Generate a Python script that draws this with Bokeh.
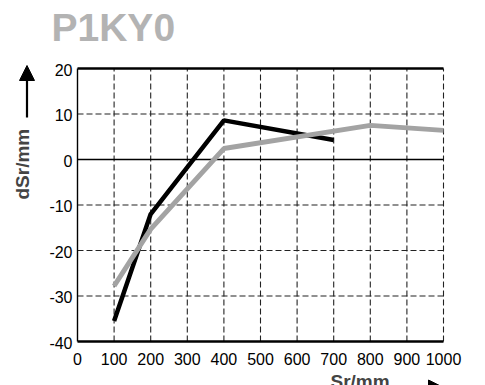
import math
from bokeh.plotting import figure
from bokeh.models import Label, Arrow, NormalHead, Range1d
from bokeh.embed import file_html
from bokeh.resources import INLINE

# ---- data ----
title_text = "P1KY0"
x_label = "Sr/mm"
y_label = "dSr/mm"
x_ticks = [0, 100, 200, 300, 400, 500, 600, 700, 800, 900, 1000]
y_ticks = [-40, -30, -20, -10, 0, 10, 20]
x_tick_labels = ["0", "100", "200", "300", "400", "500", "600", "700", "800", "900", "1000"]
y_tick_labels = ["-40", "-30", "-20", "-10", "0", "10", "20"]

black_x = [100, 200, 400, 700]
black_y = [-35.5, -12.0, 8.6, 4.3]

gray_x = [100, 200, 400, 800, 1000]
gray_y = [-27.8, -15.3, 2.4, 7.5, 6.4]

# ---- layout (pixels) ----
W, H = 485, 385
L, R, T, B = 77, 443, 68, 341
FONT = "Liberation Sans"

x_min, x_max = x_ticks[0], x_ticks[-1]
y_min, y_max = y_ticks[0], y_ticks[-1]
sx = (R - L) / (x_max - x_min)
sy = (B - T) / (y_max - y_min)

p = figure(width=W, height=H, output_backend="svg", toolbar_location=None,
           x_axis_type=None, y_axis_type=None, min_border=0,
           x_range=Range1d(x_min - L / sx, x_max + (W - R) / sx),
           y_range=Range1d(y_min - (H - B) / sy, y_max + T / sy))
p.outline_line_color = None
p.background_fill_color = "white"
p.border_fill_color = "white"

# dashed grid (vertical lines at x ticks > 0, horizontal at inner y ticks except 0)
gx = [t for t in x_ticks if t != x_min]
gy = [t for t in y_ticks if t not in (y_min, 0, y_max)]
p.segment(x0=gx, y0=[y_min] * len(gx), x1=gx, y1=[y_max] * len(gx),
          line_color="#222222", line_width=1.1, line_dash="6 3")
p.segment(x0=[x_min] * len(gy), y0=gy, x1=[x_max] * len(gy), y1=gy,
          line_color="#222222", line_width=1.1, line_dash="6 3")

# frame lines (solid)
p.line([x_min, x_max], [y_max, y_max], line_color="black", line_width=2.6)
p.line([x_min, x_max], [y_min, y_min], line_color="black", line_width=2.6)
p.line([x_min, x_max], [0, 0], line_color="black", line_width=1.4)
p.line([x_min, x_min], [y_min, y_max], line_color="black", line_width=1.4)

# series
p.line(black_x, black_y, line_color="black", line_width=4.5)
p.line(gray_x, gray_y, line_color="#a3a3a3", line_width=5)

# tick labels
p.text(x=x_ticks, y=[y_min] * len(x_ticks), text=x_tick_labels,
       text_font={"value": FONT}, text_font_size={"value": "16px"},
       text_align="center", text_baseline="alphabetic", y_offset=17, text_color="black")
p.text(x=[x_min] * len(y_ticks), y=y_ticks, text=y_tick_labels,
       text_font={"value": FONT}, text_font_size={"value": "16px"},
       text_align="right", text_baseline="alphabetic", x_offset=-5, y_offset=1, text_color="black")

# title
p.add_layout(Label(x=51, y=H - 27, x_units="screen", y_units="screen",
                   text=title_text, text_font=FONT, text_font_style="bold",
                   text_font_size="39px", text_color="#b3b3b3",
                   text_baseline="alphabetic", text_align="left"))

# y-axis label + arrow
p.add_layout(Label(x=22, y=H - 199, x_units="screen", y_units="screen",
                   text=y_label, angle=math.pi / 2, text_font=FONT,
                   text_font_style="bold", text_font_size="19px",
                   text_baseline="middle", text_align="left"))
p.add_layout(Arrow(x_start=26.5, y_start=H - 117, x_end=26.5, y_end=H - 65,
                   start_units="screen", end_units="screen",
                   line_color="black", line_width=2.2,
                   end=NormalHead(size=15, fill_color="black", line_color="black")))

# x-axis label + arrow
p.add_layout(Label(x=330, y=H - 381, x_units="screen", y_units="screen",
                   text=x_label, text_font=FONT, text_font_style="bold",
                   text_font_size="19px", text_baseline="alphabetic",
                   text_align="left"))
p.add_layout(Arrow(x_start=400, y_start=H - 387, x_end=443, y_end=H - 387,
                   start_units="screen", end_units="screen",
                   line_color="black", line_width=2.2,
                   end=NormalHead(size=15, fill_color="black", line_color="black")))

open("out.html", "w").write(file_html(p, INLINE))
